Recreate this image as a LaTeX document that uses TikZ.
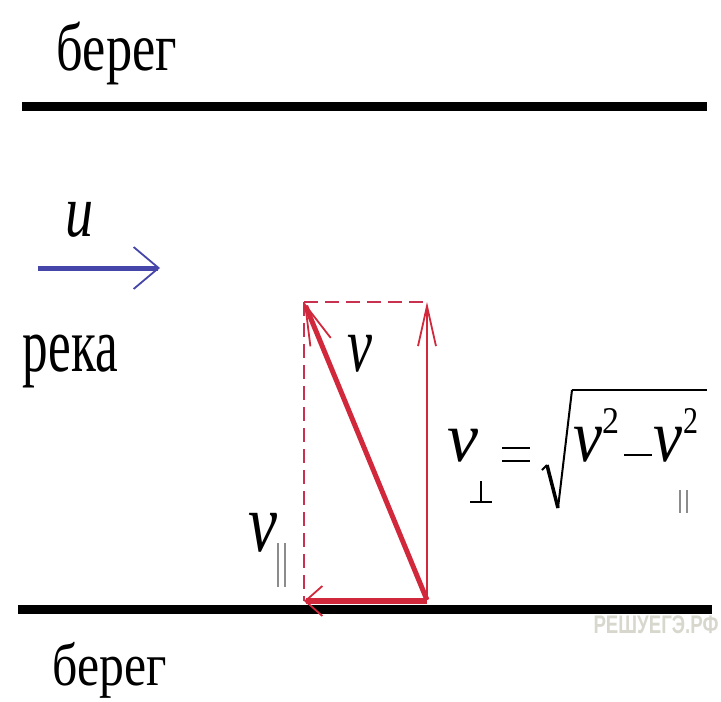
\documentclass[tikz,border=0pt]{standalone}
\usepackage{graphicx}
\usepackage{fontspec}
\setmainfont{Liberation Serif}
\newfontfamily\wmfont{Liberation Sans}
\usetikzlibrary{arrows.meta}
\definecolor{vred}{RGB}{210,40,60}
\definecolor{dred}{RGB}{200,50,80}
\definecolor{ublue}{RGB}{70,70,170}
\definecolor{wmgray}{RGB}{215,215,205}
\definecolor{pargray}{RGB}{140,140,140}
\tikzset{
  shore/.style={line width=9pt},
  lbl/.style={inner sep=0pt, font=\fontsize{60}{60}\selectfont},
  thickvec/.style={vred, line width=5pt},
  thinvec/.style={vred, line width=2pt},
  helper/.style={dred, line width=2.5pt, dash pattern=on 14pt off 7pt},
  fline/.style={line width=2.5pt},
  parbar/.style={pargray, line width=2pt},
}
\begin{document}
\begin{tikzpicture}[x=1pt,y=-1pt]
\useasboundingbox (0,0) rectangle (721,702);
% shores
\coordinate (t1) at (22,106); \coordinate (t2) at (707,106);
\coordinate (b1) at (18,609); \coordinate (b2) at (712,609);
\draw[shore] (t1) -- (t2);
\draw[shore] (b1) -- (b2);
\node[lbl] (bt) at (117,53.5) {\resizebox*{120pt}{63pt}{берег}};
\node[lbl] (bb) at (110,670) {\resizebox*{114pt}{56pt}{берег}};
\node[lbl] (rk) at (70.5,361.5) {\resizebox*{95pt}{53pt}{река}};
% current
\coordinate (u1) at (38,268); \coordinate (u2) at (160,268);
\draw[ublue, line width=5pt, -{Straight Barb[length=25pt,width=42pt,line width=1.8pt]}] (u1) -- (u2);
\node[lbl] (ul) at (79,219.5) {\resizebox*{28pt}{35pt}{\textit{u}}};
% velocity triangle
\coordinate (A) at (427,600);
\coordinate (B) at (304,302);
\coordinate (C) at (427,302);
\coordinate (D) at (304,601);
\coordinate (Ah) at (427,601);
\draw[helper] (B) -- (C);
\draw[helper] (B) -- (D);
\draw[thinvec, -{Straight Barb[length=40pt,width=18pt,line width=1.8pt]}] (A) -- (C);
\draw[thickvec, -{Straight Barb[length=40pt,width=22pt,line width=1.8pt]}] (A) -- (B);
\draw[thickvec, line width=6pt, -{Straight Barb[length=17pt,width=30pt,line width=1.8pt]}] (Ah) -- (D);
\node[lbl] (vl) at (359.5,353.5) {\resizebox*{25pt}{37pt}{\textit{v}}};
\node[lbl] (vp) at (262.5,532.5) {\resizebox*{29pt}{39pt}{\textit{v}}};
\coordinate (vpa1) at (278,543); \coordinate (vpa2) at (278,587);
\coordinate (vpb1) at (285,543); \coordinate (vpb2) at (285,587);
\draw[parbar] (vpa1) -- (vpa2);
\draw[parbar] (vpb1) -- (vpb2);
% formula v_perp = sqrt(v^2 - v_par^2)
\node[lbl] (f1) at (463,446) {\resizebox*{31pt}{33pt}{\textit{v}}};
\coordinate (p1) at (481,481); \coordinate (p2) at (481,502);
\coordinate (p3) at (470,502); \coordinate (p4) at (492,502);
\draw[line width=2pt] (p1) -- (p2);
\draw[line width=2pt] (p3) -- (p4);
\coordinate (e1) at (502,448); \coordinate (e2) at (530,448);
\coordinate (e3) at (502,461); \coordinate (e4) at (530,461);
\draw[fline] (e1) -- (e2);
\draw[fline] (e3) -- (e4);
\coordinate (r0) at (542,470); \coordinate (r1) at (547,465);
\coordinate (r2) at (558,508); \coordinate (r3) at (572,390);
\coordinate (r4) at (707,390);
\draw[line width=2pt, line join=miter] (r0) -- (r1);
\draw[line width=3.5pt] (r1) -- (r2);
\draw[line width=2pt] (r2) -- (r3);
\draw[line width=2.5pt] (r3) -- (r4);
\node[lbl] (f2) at (587.5,444.5) {\resizebox*{29pt}{35pt}{\textit{v}}};
\node[lbl] (f3) at (611,420.5) {\resizebox*{17pt}{25pt}{2}};
\coordinate (m1) at (624,455); \coordinate (m2) at (652,455);
\draw[fline] (m1) -- (m2);
\node[lbl] (f4) at (668,444.5) {\resizebox*{29pt}{35pt}{\textit{v}}};
\node[lbl] (f5) at (691,420.5) {\resizebox*{15pt}{25pt}{2}};
\coordinate (fpa1) at (680,490); \coordinate (fpa2) at (680,513);
\coordinate (fpb1) at (687,490); \coordinate (fpb2) at (687,513);
\draw[parbar] (fpa1) -- (fpa2);
\draw[parbar] (fpb1) -- (fpb2);
% watermark
\node[inner sep=0pt, text=wmgray, font=\wmfont\bfseries] (wm) at (656,625) {\resizebox*{125pt}{18pt}{РЕШУЕГЭ.РФ}};
\end{tikzpicture}
\end{document}
